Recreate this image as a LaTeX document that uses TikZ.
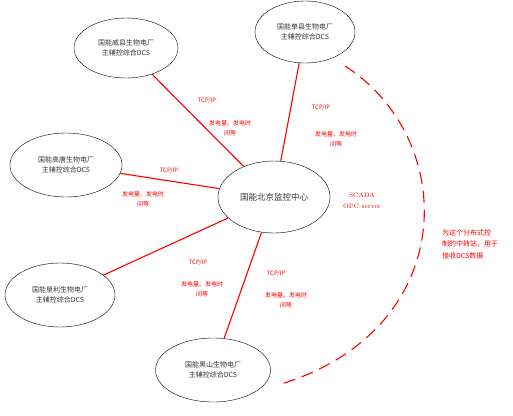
\documentclass[tikz,border=0pt]{standalone}
\usepackage{fontspec}
\newfontfamily\cjk{Noto Sans CJK SC}
\usetikzlibrary{shapes.geometric}

\begin{document}
\begin{tikzpicture}[x=1pt,y=-1pt,
  every node/.style={font=\cjk},
  plant/.style={ellipse,draw,thin,inner sep=0pt,align=center,
    font=\cjk\fontsize{7}{10}\selectfont,text=black!80},
  lnk/.style={red,line width=1.1pt},
  lbl/.style={red,align=center,inner sep=0pt,font=\cjk\fontsize{6}{9.5}\selectfont}]
 \useasboundingbox (0,0) rectangle (513,415);
 % sites
 \node[plant,minimum width=104,minimum height=60] (wx) at (126,48) {国能威县生物电厂\\主辅控综合DCS};
 \node[plant,minimum width=100,minimum height=62] (sx) at (305,32) {国能单县生物电厂\\主辅控综合DCS};
 \node[plant,minimum width=112,minimum height=64] (gt) at (66,165) {国能高唐生物电厂\\主辅控综合DCS};
 \node[plant,minimum width=110,minimum height=64] (kl) at (60,295) {国能垦利生物电厂\\主辅控综合DCS};
 \node[plant,minimum width=115,minimum height=64] (hs) at (213,370) {国能黑山生物电厂\\主辅控综合DCS};
 \node[plant,minimum width=112,minimum height=72,font=\cjk\fontsize{8.5}{10}\selectfont] (bj) at (274,197) {国能北京监控中心};
 \foreach \a in {wx,sx,gt,kl,hs}
   \draw[lnk] (bj)--(\a);
 % link labels
 \node[lbl] (t1) at (207,101) {TCP/IP};
 \node[lbl] (d1) at (230,128) {发电量、发电时\\间等};
 \node[lbl] (t2) at (321,108) {TCP/IP};
 \node[lbl] (d2) at (336,139) {发电量、发电时\\间等};
 \node[lbl] (t3) at (169,171) {TCP/IP};
 \node[lbl] (d3) at (143,199) {发电量、发电时\\间等};
 \node[lbl] (t4) at (198,263) {TCP/IP};
 \node[lbl] (d4) at (202,289) {发电量、发电时\\间等};
 \node[lbl] (t5) at (276,274) {TCP/IP};
 \node[lbl] (d5) at (286,300) {发电量、发电时\\间等};
 \node[lbl,font=\fontsize{6.5}{11}\selectfont] (opc) at (362,201) {SCADA\\OPC server};
 \node[lbl,align=left,font=\cjk\fontsize{7}{11.5}\selectfont] (note) at (470,244) {为这个分布式控\\制的中转站，用于\\接收DCS数据};
 % dashed bow
 \coordinate (dA) at (345,66);
 \coordinate (dB) at (278,385);
 \draw[red,line width=1.1pt,dash pattern=on 12pt off 7pt] (dA) .. controls (460,140) and (460,331) .. (dB);
\end{tikzpicture}
\end{document}
